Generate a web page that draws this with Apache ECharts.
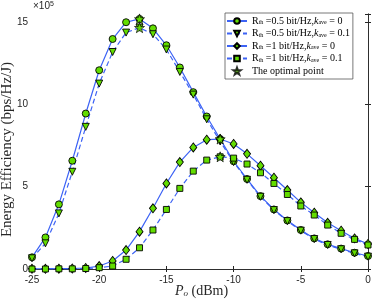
<!DOCTYPE html>
<html><head><meta charset="utf-8">
<script src="https://cdn.jsdelivr.net/npm/echarts@6/dist/echarts.min.js"></script>
<style>html,body{margin:0;padding:0;background:#fff}#c{width:374px;height:301px}</style>
</head><body><div id="c"></div>
<script>
// P_o (dBm)
const powerDbm = [-25,-24,-23,-22,-21,-20,-19,-18,-17,-16,-15,-14,-13,-12,-11,-10,-9,-8,-7,-6,-5,-4,-3,-2,-1,0];
// Energy efficiency, units of 1e5 bps/Hz/J
const eeR05k0  = [0.71,1.92,3.93,6.58,9.45,12.08,13.98,15.0,15.2,14.63,13.6,12.25,10.75,9.27,7.9,6.55,5.47,4.43,3.62,2.95,2.37,1.86,1.5,1.24,0.99,0.79];
const eeR05k01 = [0.65,1.56,3.38,5.91,8.64,11.27,13.19,14.37,14.67,14.27,13.34,11.98,10.6,9.1,7.75,6.5,5.42,4.39,3.58,2.91,2.33,1.82,1.46,1.2,0.95,0.75];
const eeR1k0   = [0.01,0.01,0.02,0.03,0.06,0.18,0.49,1.15,2.27,3.69,5.2,6.5,7.39,7.86,7.9,7.6,7.0,6.28,5.55,4.8,4.05,3.42,2.81,2.33,1.86,1.52];
const eeR1k01  = [0.0,0.0,0.01,0.01,0.03,0.08,0.18,0.59,1.29,2.37,3.62,4.9,5.95,6.62,6.82,6.74,6.38,5.85,5.2,4.53,3.83,3.28,2.67,2.17,1.8,1.46];
const optimalX = [-17,-17,-11,-11];
const optimalY = [15.2,14.67,7.9,6.82];
const xTicks = [-25,-20,-15,-10,-5,0];
const yTicks = [0,5,10,15];
const seriesNames = ['s1','s2','s3','s4','s5'];
const legendRich = [
  '{n|R}{s|th}{n| =0.5 bit/Hz,}{i|k}{s|ave}{n| = 0}',
  '{n|R}{s|th}{n| =0.5 bit/Hz,}{i|k}{s|ave}{n| = 0.1}',
  '{n|R}{s|th}{n| =1 bit/Hz,}{i|k}{s|ave}{n| = 0}',
  '{n|R}{s|th}{n| =1 bit/Hz,}{i|k}{s|ave}{n| = 0.1}',
  '{n|The optimal point}'
];

const BLUE = '#3d63f5', GREEN = '#62dd00', AX = '#262626';
const STAR = 'path://M0,-10L2.35,-3.24L9.51,-3.09L3.8,1.24L5.88,8.09L0,4L-5.88,8.09L-3.8,1.24L-9.51,-3.09L-2.35,-3.24Z';
const pair = arr => powerDbm.map((x,i)=>[x,arr[i]]);
function lineSeries(name, arr, symbol, size, dashed){
  return {name, type:'line', data:pair(arr), symbol, symbolSize:size,
    lineStyle:{color:BLUE, width:1.2, type: dashed ? [5,3] : 'solid'},
    itemStyle:{color:GREEN, borderColor:'#000', borderWidth:0.9},
    emphasis:{disabled:true}, animation:false, z:2};
}
const chart = echarts.init(document.getElementById('c'));
const sans = 'Liberation Sans';
const serif = 'Liberation Serif';
chart.setOption({
  animation:false,
  grid:{left:32, right:6, top:14, bottom:32, containLabel:false, outerBoundsMode:'none'},
  xAxis:[{type:'value', min:-25, max:0, interval:5, position:'bottom',
    name:'{i|P}{s|o}{n| (dBm)}', nameLocation:'middle', nameGap:15, nameMoveOverlap:false,
    nameTextStyle:{fontFamily:serif, fontSize:14, color:AX, padding:[0,0,0,3], rich:{
      n:{fontFamily:serif,fontSize:14,color:AX}, i:{fontFamily:serif,fontSize:14,fontStyle:'italic',color:AX},
      s:{fontFamily:serif,fontSize:9,fontStyle:'italic',color:AX,verticalAlign:'bottom',padding:[5,0,0,0]}}},
    axisLine:{lineStyle:{color:AX,width:0.8}}, axisTick:{inside:true,length:3,lineStyle:{color:AX}},
    axisLabel:{fontFamily:sans,fontSize:10,color:AX,margin:6,hideOverlap:false, formatter:v=>xTicks.includes(v)?String(v):''},
    splitLine:{show:false}},
   {type:'value', min:-25, max:0, interval:5, position:'top',
    axisLine:{lineStyle:{color:AX,width:0.8}}, axisTick:{inside:true,length:3,lineStyle:{color:AX}},
    axisLabel:{show:false}, splitLine:{show:false}}],
  yAxis:[{type:'value', min:0, max:15.5, interval:5, position:'left',
    name:'Energy Efficiency (bps/Hz/J)', nameLocation:'middle', nameGap:17.5, nameMoveOverlap:false,
    nameTextStyle:{fontFamily:serif,fontSize:15,color:AX,padding:[0,16,0,0]},
    axisLine:{show:true,lineStyle:{color:AX,width:0.8}}, axisTick:{show:true,inside:true,length:3,lineStyle:{color:AX}},
    axisLabel:{fontFamily:sans,fontSize:10,color:AX,margin:4, formatter:v=>yTicks.includes(v)?String(v):''},
    splitLine:{show:false}},
   {type:'value', min:0, max:15.5, interval:5, position:'right',
    axisLine:{show:true,lineStyle:{color:AX,width:0.8}}, axisTick:{show:true,inside:true,length:3,lineStyle:{color:AX}},
    axisLabel:{show:false}, splitLine:{show:false}}],
  legend:{orient:'vertical', left:225, top:13, data:seriesNames,
    itemWidth:20, itemHeight:7, itemGap:2.5, padding:[3,3,3,1],
    borderColor:'#555', borderWidth:0.8, backgroundColor:'#fff',
    formatter:name=>legendRich[seriesNames.indexOf(name)],
    textStyle:{fontFamily:serif,fontSize:10,color:'#000',rich:{
      n:{fontFamily:serif,fontSize:10,color:'#000',lineHeight:9},
      i:{fontFamily:serif,fontSize:10,fontStyle:'italic',color:'#000',lineHeight:9},
      s:{fontFamily:serif,fontSize:6,color:'#000',verticalAlign:'bottom',lineHeight:9,padding:[3,0,0,0]}}}},
  graphic:[{type:'text', left:33, top:1, style:{
    text:'{a|×10}{b|5}', fill:AX,
    rich:{a:{fontFamily:sans,fontSize:10,fill:AX,verticalAlign:'bottom'}, b:{fontFamily:sans,fontSize:7,fill:AX,verticalAlign:'top'}}}}],
  series:[
    lineSeries('s1', eeR05k0, 'circle', 7, false),
    lineSeries('s2', eeR05k01, 'path://M0,0L10,0L5,9Z', 7, true),
    lineSeries('s3', eeR1k0, 'diamond', [7,9], false),
    lineSeries('s4', eeR1k01, 'rect', 6, true),
    {name:'s5', type:'scatter', data:optimalX.map((x,i)=>[x,optimalY[i]]), symbol:STAR, symbolSize:10,
     itemStyle:{color:GREEN,borderColor:'#000',borderWidth:0.9}, z:5, emphasis:{disabled:true}}
  ]
});
</script></body></html>
